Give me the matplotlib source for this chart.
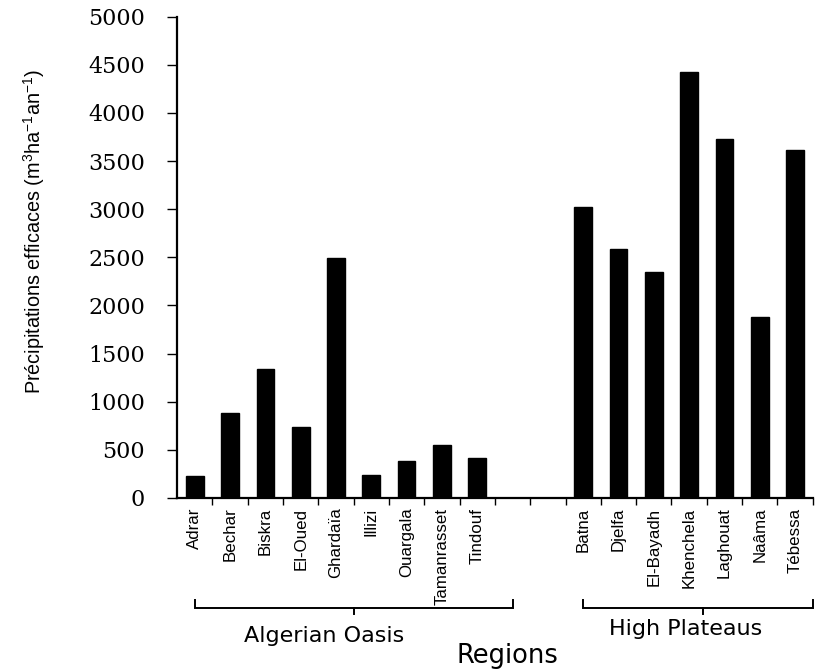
import numpy as np
import matplotlib
matplotlib.use("Agg")
import matplotlib.pyplot as plt
from matplotlib.transforms import blended_transform_factory

# Effective precipitation per region (m3 ha-1 an-1)
oasis_sites = ["Adrar", "Bechar", "Biskra", "El-Oued", "Ghardaïa", "Illizi",
               "Ouargala", "Tamanrasset", "Tindouf"]
oasis_values = [230, 880, 1340, 735, 2490, 240, 380, 550, 410]

plateau_sites = ["Batna", "Djelfa", "El-Bayadh", "Khenchela", "Laghouat",
                 "Naâma", "Tébessa"]
plateau_values = [3020, 2590, 2350, 4430, 3730, 1875, 3620]

group_names = ["Algerian Oasis", "High Plateaus"]
y_ticks = [0, 500, 1000, 1500, 2000, 2500, 3000, 3500, 4000, 4500, 5000]

plt.rcParams["mathtext.fontset"] = "custom"
plt.rcParams["mathtext.rm"] = "Liberation Sans"
plt.rcParams["mathtext.it"] = "Liberation Sans"

sans = ["Liberation Sans", "DejaVu Sans"]

fig = plt.figure(figsize=(8.16, 6.71), dpi=100)
ax = fig.add_axes([0.217, 0.258, 0.779, 0.717])

gap = 2
oasis_pos = np.arange(len(oasis_sites))
plateau_pos = np.arange(len(plateau_sites)) + len(oasis_sites) + gap
positions = np.concatenate([oasis_pos, plateau_pos])
values = oasis_values + plateau_values
labels = oasis_sites + plateau_sites

ax.bar(positions, values, width=0.5, color="black", edgecolor="black")

n_slots = len(oasis_sites) + gap + len(plateau_sites)
ax.set_xlim(-0.5, n_slots - 0.5)
ax.set_ylim(0, 5000)

for side in ("top", "right"):
    ax.spines[side].set_visible(False)
for side in ("left", "bottom"):
    ax.spines[side].set_linewidth(1.6)

# y axis: serif numbers, outward ticks
ax.set_yticks(y_ticks)
ax.set_yticklabels([str(v) for v in y_ticks], family="DejaVu Serif", fontsize=16)
ax.tick_params(axis="y", direction="out", length=7, width=1.0, pad=16)

# x axis: labels under each bar, small ticks between bars
ax.set_xticks(positions)
ax.set_xticklabels(labels, rotation=90, family=sans, fontsize=12.2)
ax.tick_params(axis="x", which="major", length=0, pad=7)
ax.set_xticks(np.arange(n_slots) + 0.5, minor=True)
ax.tick_params(axis="x", which="minor", direction="out", length=5, width=1.0)

ax.set_ylabel(r"Précipitations efficaces (m$^{3}$ha$^{-1}$an$^{-1}$)",
              family=sans, fontsize=14.3)
ax.yaxis.set_label_coords(-0.205, 0.553)

# group brackets below the tick labels
tr = blended_transform_factory(ax.transData, fig.transFigure)
y_line = 1 - 608 / 671
y_up = 1 - 600 / 671
y_down = 1 - 614 / 671
brackets = [
    (oasis_pos[0], oasis_pos[-1] + 1.0, 4.5, 3.65, 1 - 636 / 671),
    (plateau_pos[0], n_slots - 0.5, 14.4, 13.9, 1 - 629 / 671),
]
for (x0, x1, xc, xt, yt), name in zip(brackets, group_names):
    ax.plot([x0, x0, x1, x1], [y_up, y_line, y_line, y_up], transform=tr,
            color="black", lw=1.4, clip_on=False, solid_joinstyle="miter")
    ax.plot([xc, xc], [y_line, y_down], transform=tr, color="black", lw=1.4,
            clip_on=False)
    ax.text(xt, yt, name, transform=tr, ha="center", va="center",
            family="DejaVu Sans", fontsize=16)

fig.text(507 / 816, 1 - 663 / 671, "Regions", ha="center", va="baseline",
         family="DejaVu Sans", fontsize=18.5)

fig.savefig("out.png", dpi=100)
